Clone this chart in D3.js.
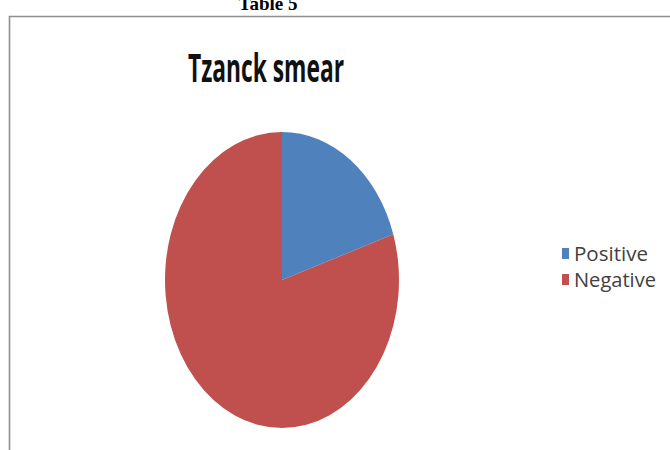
<!DOCTYPE html>
<html>
<head>
<meta charset="utf-8">
<script src="https://cdn.jsdelivr.net/npm/d3@7"></script>
<style>
  body { margin: 0; background: #fff; }
  svg { display: block; }
</style>
</head>
<body>
<div id="chart"></div>
<script>
var categories = ["Positive", "Negative"];
var values = [20, 80];
var colors = ["#4f81bd", "#c0504d"];

var width = 670, height = 450;

var svg = d3.select("#chart")
    .append("svg")
    .attr("width", width)
    .attr("height", height);

// caption above the frame, mostly cut off
svg.append("text")
    .attr("x", 268)
    .attr("y", 10)
    .attr("text-anchor", "middle")
    .attr("font-family", "Liberation Serif")
    .attr("font-weight", "bold")
    .attr("font-size", 19)
    .text("Table 5");

// chart frame
svg.append("path")
    .attr("d", "M9.5,451 L9.5,16.5 L672,16.5")
    .attr("fill", "none")
    .attr("stroke", "#8f8f8f")
    .attr("stroke-width", 1.6);

svg.append("text")
    .attr("x", 266)
    .attr("y", 82)
    .attr("text-anchor", "middle")
    .attr("font-family", "Open Sans")
    .attr("font-weight", "bold")
    .attr("font-size", 40)
    .attr("textLength", 156)
    .attr("lengthAdjust", "spacingAndGlyphs")
    .attr("fill", "#111")
    .text("Tzanck smear");

var cx = 282, cy = 280, rx = 117, ry = 148;

var pie = d3.pie().sort(null).value(function(d) { return d; });
var arc = d3.arc().innerRadius(0).outerRadius(ry);

var g = svg.append("g")
    .attr("transform", "translate(" + cx + "," + cy + ") scale(" + (rx / ry) + ",1)");

g.selectAll("path")
    .data(pie(values))
    .enter()
    .append("path")
    .attr("d", arc)
    .attr("fill", function(d, i) { return colors[i]; });

var legend = svg.selectAll(".legend")
    .data(categories)
    .enter()
    .append("g")
    .attr("class", "legend")
    .attr("transform", function(d, i) { return "translate(562," + (248 + i * 26) + ")"; });

legend.append("rect")
    .attr("width", 7)
    .attr("height", 11)
    .attr("fill", function(d, i) { return colors[i]; });

legend.append("text")
    .attr("x", 12)
    .attr("y", 13)
    .attr("font-family", "Open Sans")
    .attr("font-size", 20)
    .attr("textLength", function(d) { return d === "Positive" ? 74 : 82; })
    .attr("lengthAdjust", "spacingAndGlyphs")
    .attr("fill", "#404040")
    .text(function(d) { return d; });
</script>
</body>
</html>
